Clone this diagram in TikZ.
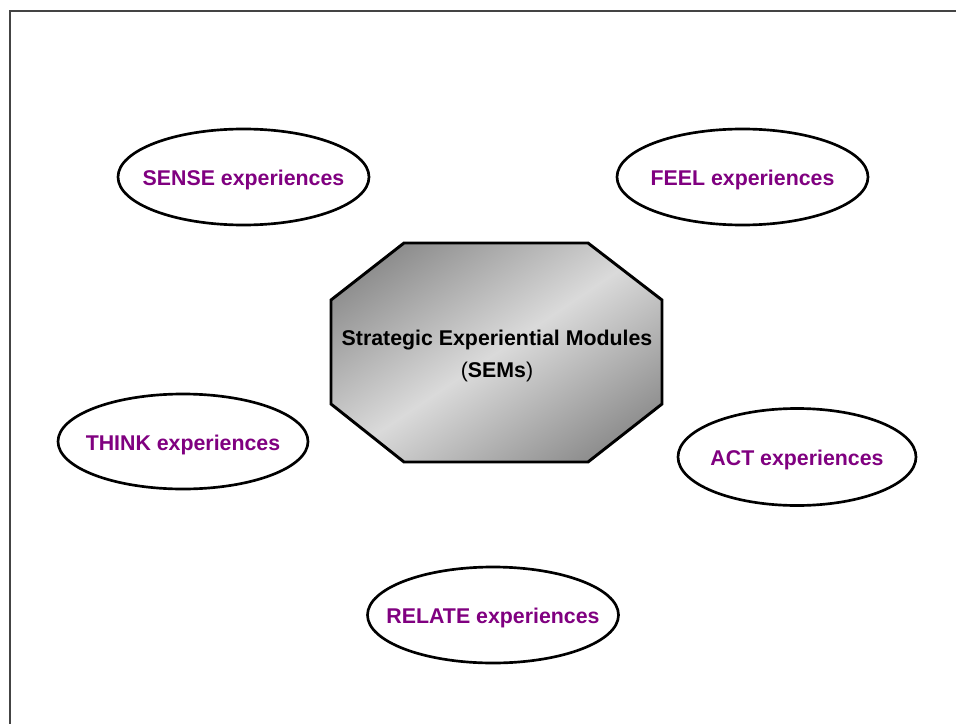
\documentclass[tikz,border=0pt]{standalone}
\usepackage{fontspec}
\setmainfont{Liberation Sans}
\usetikzlibrary{shapes.geometric}
\definecolor{expurple}{HTML}{800080}
\definecolor{framegray}{HTML}{444444}
\definecolor{octdark}{HTML}{7E7E7E}
\definecolor{octlight}{HTML}{DADADA}
\newlength{\pxu}
\setlength{\pxu}{0.75pt}
% label set in a zero-width box so the ellipse keeps its given size
\newcommand{\flatlabel}[1]{\makebox[0pt]{#1}}
\tikzset{
  exp/.style={ellipse, draw=black, line width=2pt, fill=white,
    inner sep=0pt, minimum width=251\pxu, minimum height=96\pxu,
    text height=13pt, text depth=0pt,
    text=expurple, font=\fontsize{16}{19}\selectfont\bfseries},
  semtext/.style={align=center, text=black,
    font=\fontsize{16}{24.5}\selectfont},
}
\begin{document}
\begin{tikzpicture}[x=0.75pt,y=-0.75pt]
  \useasboundingbox (0,0) rectangle (956,724);
  % page frame, top and left edges
  \coordinate (fbl) at (10,724);
  \coordinate (ftl) at (10,11);
  \coordinate (ftr) at (956,11);
  \draw[framegray, line width=1.5pt] (fbl) -- (ftl) -- (ftr);

  % central octagon with a diagonal metallic shading
  \coordinate (o1) at (404,243);
  \coordinate (o2) at (588,243);
  \coordinate (o3) at (662,300);
  \coordinate (o4) at (662,404);
  \coordinate (o5) at (588,462);
  \coordinate (o6) at (404,462);
  \coordinate (o7) at (331,404);
  \coordinate (o8) at (331,300);
  \coordinate (oc) at (496.5,352.5);
  \begin{scope}
    \clip (o1) -- (o2) -- (o3) -- (o4) -- (o5) -- (o6) -- (o7) -- (o8) -- cycle;
    % square area, so the shading angle is not distorted
    \shade[top color=octdark, bottom color=octdark, middle color=octlight,
           shading angle=34]
      ([shift={(-170,-170)}]oc) rectangle ([shift={(170,170)}]oc);
  \end{scope}
  \draw[black, line width=2.2pt, line join=miter]
    (o1) -- (o2) -- (o3) -- (o4) -- (o5) -- (o6) -- (o7) -- (o8) -- cycle;
  \node[semtext] (sem) at (497,356)
    {\textbf{Strategic Experiential Modules}\\(\textbf{SEMs})};

  % the five experience modules
  \node[exp] (sense) at (243.5,177) {\flatlabel{SENSE experiences}};
  \node[exp] (feel) at (742.5,177) {\flatlabel{FEEL experiences}};
  \node[exp, minimum width=250\pxu, minimum height=95\pxu] (think) at (183,441.5) {\flatlabel{THINK experiences}};
  \node[exp, minimum width=238\pxu, minimum height=97\pxu] (act) at (797,457) {\flatlabel{ACT experiences}};
  \node[exp] (relate) at (493,615) {\flatlabel{RELATE experiences}};
\end{tikzpicture}
\end{document}
